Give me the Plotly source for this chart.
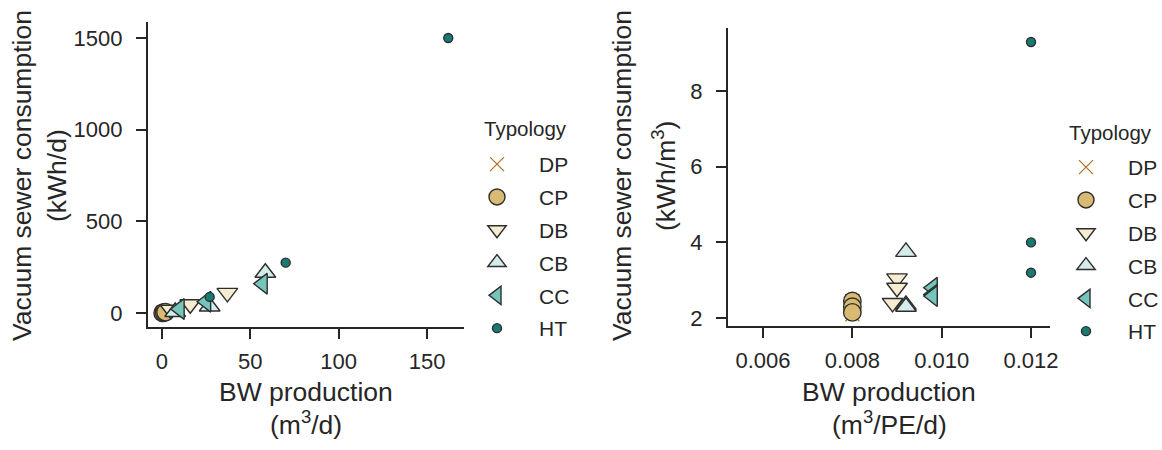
import plotly.graph_objects as go

W, H = 1162, 450

typologies = ["DP", "CP", "DB", "CB", "CC", "HT"]

# left panel: BW production (m3/d) vs vacuum sewer consumption (kWh/d)
dp_bw_day = [0.6, 1.1]
dp_kwh_day = [1.3, 2.4]
cp_bw_day = [0.4, 1.2, 2.0]
cp_kwh_day = [1.0, 3.0, 5.0]
db_bw_day = [37, 16, 5]
db_kwh_day = [110, 48, 18]
cb_bw_day = [58.5, 27, 7.5]
cb_kwh_day = [220, 36, 6]
cc_bw_day = [57, 25, 10]
cc_kwh_day = [160, 62, 22]
ht_bw_day = [162, 70, 27]
ht_kwh_day = [1500, 275, 88]

# right panel: BW production (m3/PE/d) vs vacuum sewer consumption (kWh/m3)
dp_bw_pe = [0.008, 0.008]
dp_kwh_m3 = [2.45, 2.1]
cp_bw_pe = [0.008, 0.008, 0.008]
cp_kwh_m3 = [2.45, 2.3, 2.15]
db_bw_pe = [0.009, 0.009, 0.0089]
db_kwh_m3 = [3.05, 2.8, 2.4]
cb_bw_pe = [0.0092, 0.0092, 0.0092]
cb_kwh_m3 = [3.75, 2.35, 2.3]
cc_bw_pe = [0.0098, 0.0098, 0.0098]
cc_kwh_m3 = [2.8, 2.62, 2.58]
ht_bw_pe = [0.012, 0.012, 0.012]
ht_kwh_m3 = [9.3, 4.0, 3.2]

left_data = {
    "DP": (dp_bw_day, dp_kwh_day), "CP": (cp_bw_day, cp_kwh_day),
    "DB": (db_bw_day, db_kwh_day), "CB": (cb_bw_day, cb_kwh_day),
    "CC": (cc_bw_day, cc_kwh_day), "HT": (ht_bw_day, ht_kwh_day),
}
right_data = {
    "DP": (dp_bw_pe, dp_kwh_m3), "CP": (cp_bw_pe, cp_kwh_m3),
    "DB": (db_bw_pe, db_kwh_m3), "CB": (cb_bw_pe, cb_kwh_m3),
    "CC": (cc_bw_pe, cc_kwh_m3), "HT": (ht_bw_pe, ht_kwh_m3),
}

# BrBG palette, 6 colours
colors = {"DP": "#b0722a", "CP": "#dab972", "DB": "#f6ecd1",
          "CB": "#d4edea", "CC": "#75c5ba", "HT": "#177b73"}
symbols = {"DP": "x-thin-open", "CP": "circle", "DB": "triangle-down",
           "CB": "triangle-up", "CC": "triangle-left", "HT": "circle"}
sizes = {"DP": 14, "CP": 17.5, "DB": 18, "CB": 18, "CC": 18, "HT": 9}

INK = "#262626"
FONT = "Liberation Sans, Arial, sans-serif"


def sx(px):
    return px / W


def sy(py):
    return 1 - py / H


fig = go.Figure()

for panel, data in (("", left_data), ("2", right_data)):
    for t in typologies:
        xs, ys = data[t]
        if t == "DP":
            marker = dict(symbol=symbols[t], size=sizes[t], color=colors[t],
                          line=dict(color=colors[t], width=1.3))
        else:
            marker = dict(symbol=symbols[t], size=sizes[t], color=colors[t],
                          line=dict(color="#2e2e2e", width=1.4))
        fig.add_trace(go.Scatter(
            x=xs, y=ys, mode="markers", name=t, marker=marker,
            xaxis="x" + panel, yaxis="y" + panel,
            legend="legend" + panel, legendgroup=t + panel,
        ))

axis_style = dict(showline=True, linecolor=INK, linewidth=2.2, ticks="outside",
                  ticklen=10, tickwidth=2.2, tickcolor=INK, showgrid=False,
                  zeroline=False, tickfont=dict(size=22, color=INK, family=FONT))

legend_style = dict(font=dict(size=21, color=INK, family=FONT),
                    bgcolor="rgba(0,0,0,0)", tracegroupgap=2.5, itemwidth=74,
                    xanchor="left", yanchor="top", itemsizing="trace")

fig.update_layout(
    width=W, height=H,
    margin=dict(l=0, r=0, t=0, b=0, autoexpand=False),
    plot_bgcolor="white", paper_bgcolor="white",
    font=dict(family=FONT, color=INK),
    xaxis=dict(domain=[sx(148), sx(464)], range=[-7.9, 170.9],
               tickvals=[0, 50, 100, 150], anchor="y", ticklabelstandoff=3, **axis_style),
    yaxis=dict(domain=[sy(327), sy(22)], range=[-76, 1587],
               tickvals=[0, 500, 1000, 1500], anchor="x", ticklabelstandoff=9, **axis_style),
    xaxis2=dict(domain=[sx(728), sx(1050)], range=[0.005216, 0.012425],
                tickvals=[0.006, 0.008, 0.010, 0.012], ticktext=["0.006", "0.008", "0.010", "0.012"],
                anchor="y2", ticklabelstandoff=3, **axis_style),
    yaxis2=dict(domain=[sy(326), sy(28)], range=[1.79, 9.67],
                tickvals=[2, 4, 6, 8], anchor="x2", ticklabelstandoff=9, **axis_style),
    legend=dict(x=sx(455), y=sy(144), **legend_style),
    legend2=dict(x=sx(1044), y=sy(147), **legend_style),
)

title_font = dict(size=26.5, color=INK, family=FONT)
legend_title_font = dict(size=20.5, color=INK, family=FONT)
annots = [
    ("Vacuum sewer consumption", 22, 176, -90, title_font),
    ("(kWh/d)", 57, 176, -90, title_font),
    ("Vacuum sewer consumption", 622, 176, -90, title_font),
    ("(kWh/m<sup>3</sup>)", 664, 176, -90, title_font),
    ("BW production", 306, 392, 0, title_font),
    ("(m<sup>3</sup>/d)", 306, 423, 0, title_font),
    ("BW production", 889, 392, 0, title_font),
    ("(m<sup>3</sup>/PE/d)", 889, 423, 0, title_font),
    ("Typology", 525, 128, 0, legend_title_font),
    ("Typology", 1110, 132, 0, legend_title_font),
]
for text, px, py, ang, fnt in annots:
    fig.add_annotation(text=text, x=sx(px), y=sy(py), xref="paper", yref="paper",
                       xanchor="center", yanchor="middle", textangle=ang,
                       showarrow=False, font=fnt)

# drop the browser's default page margin so the figure fills the window
fig.write_html("out.html", config={"displayModeBar": False},
               post_script="document.body.style.margin = '0';")
